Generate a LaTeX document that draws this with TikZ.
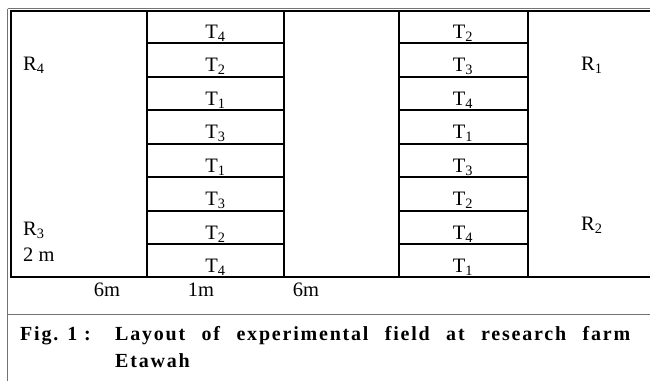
\documentclass[tikz,border=0pt]{standalone}
\usepackage{fontspec}
\setmainfont{Liberation Serif}
\tikzset{
  plotline/.style={line width=2pt, black},
  edgeline/.style={line width=1pt, black!55},
  lab/.style={anchor=base, inner sep=0pt, font=\fontsize{20.5}{22}\selectfont},
  side/.style={lab, anchor=base west},
  caption/.style={anchor=base west, inner sep=0pt,
    font=\fontsize{20}{22}\selectfont\bfseries\addfontfeature{LetterSpace=9}},
}
\begin{document}
\begin{tikzpicture}[x=1pt,y=-1pt]
\useasboundingbox (0,0) rectangle (650,381);
% outer page frame
\draw[edgeline] (7.5,8.5) -- (650,8.5);
\draw[edgeline] (7.5,8.5) -- (7.5,381);
\draw[edgeline] (7.5,314) -- (650,314);
% field
\coordinate (A) at (10.5,10.5);
\coordinate (B) at (650,10.5);
\coordinate (C) at (10.5,277);
\coordinate (D) at (650,277);
\draw[plotline] (B) -- (A) -- (C) -- (D);
\draw[plotline] (147,10.5) rectangle (284,277);
\draw[plotline] (399,10.5) rectangle (527.5,277);
\draw[plotline] (147,43) -- (284,43) (147,76.5) -- (284,76.5)
  (147,110) -- (284,110) (147,143.5) -- (284,143.5)
  (147,177) -- (284,177) (147,210.5) -- (284,210.5)
  (147,244) -- (284,244);
\draw[plotline] (399,43) -- (527.5,43) (399,76.5) -- (527.5,76.5)
  (399,110) -- (527.5,110) (399,143.5) -- (527.5,143.5)
  (399,177) -- (527.5,177) (399,210.5) -- (527.5,210.5)
  (399,244) -- (527.5,244);
% treatments, left strip
\node[lab] (l1) at (215.5,38) {T\textsubscript{4}};
\node[lab] (l2) at (215.5,71.5) {T\textsubscript{2}};
\node[lab] (l3) at (215.5,105) {T\textsubscript{1}};
\node[lab] (l4) at (215.5,138.5) {T\textsubscript{3}};
\node[lab] (l5) at (215.5,172) {T\textsubscript{1}};
\node[lab] (l6) at (215.5,205.5) {T\textsubscript{3}};
\node[lab] (l7) at (215.5,239) {T\textsubscript{2}};
\node[lab] (l8) at (215.5,272) {T\textsubscript{4}};
% treatments, right strip
\node[lab] (r1) at (463,38) {T\textsubscript{2}};
\node[lab] (r2) at (463,71.5) {T\textsubscript{3}};
\node[lab] (r3) at (463,105) {T\textsubscript{4}};
\node[lab] (r4) at (463,138.5) {T\textsubscript{1}};
\node[lab] (r5) at (463,172) {T\textsubscript{3}};
\node[lab] (r6) at (463,205.5) {T\textsubscript{2}};
\node[lab] (r7) at (463,239) {T\textsubscript{4}};
\node[lab] (r8) at (463,272) {T\textsubscript{1}};
% replications and sizes
\node[side] (R4) at (23,70) {R\textsubscript{4}};
\node[side] (R3) at (23,235) {R\textsubscript{3}};
\node[side] (w) at (23,261.5) {2 m};
\node[side] (R1) at (581,70) {R\textsubscript{1}};
\node[side] (R2) at (581,230) {R\textsubscript{2}};
\node[lab] (s1) at (107,296.5) {6m};
\node[lab] (s2) at (201,296.5) {1m};
\node[lab] (s3) at (306,296.5) {6m};
% caption
\node[caption] (fig) at (20,340) {Fig. 1 :};
\node[caption] (cap) at (115,340)
  {\makebox[515pt][s]{Layout of experimental field at research farm}};
\node[caption] (cap2) at (115,367) {Etawah};
\end{tikzpicture}
\end{document}
